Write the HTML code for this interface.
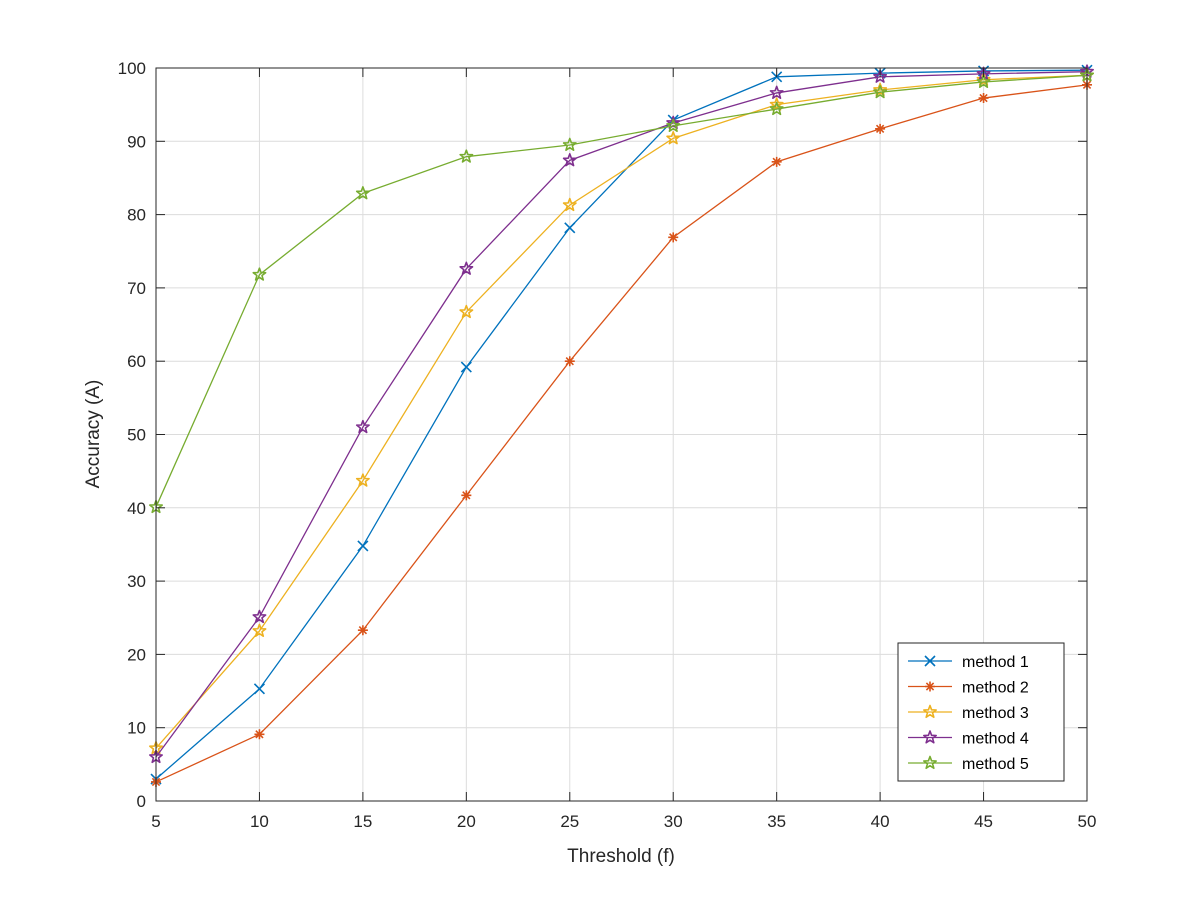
<!DOCTYPE html>
<html><head><meta charset="utf-8"><style>
body{margin:0;background:#fff;}
svg{display:block;font-family:"Liberation Sans",Arial,sans-serif;}
</style></head><body>
<svg id="chart" width="1200" height="900">
<rect width="1200" height="900" fill="#fff"/>
<g id="grid"></g>
<g id="series"></g>
<rect x="156" y="68" width="931" height="733" fill="none" stroke="#262626" stroke-width="1"/>
<g id="ticks"></g>
<text x="621" y="862" font-size="19" fill="#262626" text-anchor="middle">Threshold (f)</text>
<text transform="translate(99,434) rotate(-90)" font-size="19" fill="#262626" text-anchor="middle">Accuracy (A)</text>
<g id="legend"></g>
</svg>
<script>
const categories=[5,10,15,20,25,30,35,40,45,50];
const seriesNames=["method 1","method 2","method 3","method 4","method 5"];
const method1=[3.0,15.3,34.8,59.2,78.2,92.9,98.8,99.3,99.6,99.7];
const method2=[2.6,9.1,23.3,41.7,60.0,76.9,87.2,91.7,95.9,97.7];
const method3=[7.2,23.2,43.7,66.7,81.3,90.4,95.0,97.0,98.4,99.0];
const method4=[6.0,25.1,51.0,72.6,87.4,92.5,96.6,98.8,99.2,99.5];
const method5=[40.1,71.8,82.9,87.9,89.5,92.1,94.4,96.7,98.1,99.0];
const xTicks=[5,10,15,20,25,30,35,40,45,50];
const yTicks=[0,10,20,30,40,50,60,70,80,90,100];
const colors=["#0072BD","#D95319","#EDB120","#7E2F8E","#77AC30"];
const markers=["x","star","pent","pent","pent"];
const allSeries=[method1,method2,method3,method4,method5];
const NS="http://www.w3.org/2000/svg";
const X=v=>156+(v-5)/45*931;
const Y=v=>801-v/100*733;
function mk(tag,attrs,parent){const e=document.createElementNS(NS,tag);for(const k in attrs)e.setAttribute(k,attrs[k]);parent.appendChild(e);return e;}
const grid=document.getElementById('grid'),ticks=document.getElementById('ticks');
xTicks.forEach(t=>{
 const l=mk('line',{x1:X(t),x2:X(t),y1:68,y2:801,stroke:'#dcdcdc','stroke-width':1},grid);
 
 
 const tk=mk('line',{x1:X(t),x2:X(t),y1:801,y2:792,stroke:'#262626'},ticks);
 
 
 const tk2=mk('line',{x1:X(t),x2:X(t),y1:68,y2:77,stroke:'#262626'},ticks);
 
 
 const tx=mk('text',{x:X(t),y:827,'font-size':17,fill:'#262626','text-anchor':'middle'},ticks);
 tx.textContent=t;
 
 
});
yTicks.forEach(t=>{
 const l=mk('line',{x1:156,x2:1087,y1:Y(t),y2:Y(t),stroke:'#dcdcdc','stroke-width':1},grid);
 
 
 const tk=mk('line',{x1:156,x2:165,y1:Y(t),y2:Y(t),stroke:'#262626'},ticks);
 
 
 const tk2=mk('line',{x1:1078,x2:1087,y1:Y(t),y2:Y(t),stroke:'#262626'},ticks);
 
 
 const tx=mk('text',{x:146,y:Y(t)+6,'font-size':17,fill:'#262626','text-anchor':'end'},ticks);
 tx.textContent=t;
 
 
});
function starPath(cx,cy,n,r1,r2){let d='';for(let i=0;i<n*2;i++){const r=i%2?r2:r1;const a=-Math.PI/2+i*Math.PI/n;d+=(i?'L':'M')+(cx+r*Math.cos(a)).toFixed(2)+' '+(cy+r*Math.sin(a)).toFixed(2);}return d+'Z';}
function marker(type,cx,cy,color,parent){
 let e;
 if(type==='x'){e=mk('path',{d:`M${cx-5} ${cy-5}L${cx+5} ${cy+5}M${cx-5} ${cy+5}L${cx+5} ${cy-5}`,stroke:color,'stroke-width':1.6,fill:'none'},parent);}
 else if(type==='star'){e=mk('path',{d:`M${cx-5} ${cy}L${cx+5} ${cy}M${cx} ${cy-5}L${cx} ${cy+5}M${cx-3.6} ${cy-3.6}L${cx+3.6} ${cy+3.6}M${cx-3.6} ${cy+3.6}L${cx+3.6} ${cy-3.6}`,stroke:color,'stroke-width':1.6,fill:'none'},parent);}
 else {e=mk('path',{d:starPath(cx,cy,5,6.5,2.7),stroke:color,'stroke-width':1.6,fill:'none','stroke-linejoin':'round'},parent);}
 return e;
}
const sg=document.getElementById('series');
allSeries.forEach((s,i)=>{
 const g=mk('g',{},sg);
 
 
 const pl=mk('polyline',{points:s.map((v,j)=>X(categories[j])+','+Y(v)).join(' '),fill:'none',stroke:colors[i],'stroke-width':1.3},g);
 
 
 s.forEach((v,j)=>{
  const m=marker(markers[i],X(categories[j]),Y(v),colors[i],g);
  
  
 });
});
const lg=document.getElementById('legend');
const lb=mk('rect',{x:898,y:643,width:166,height:138,fill:'#fff',stroke:'#262626','stroke-width':1},lg);


seriesNames.forEach((n,i)=>{
 const y=661+i*25.5;
 const g=mk('g',{},lg);
 
 
 mk('line',{x1:908,x2:952,y1:y,y2:y,stroke:colors[i],'stroke-width':1.3},g);
 marker(markers[i],930,y,colors[i],g);
 const t=mk('text',{x:962,y:y+6,'font-size':16,fill:'#000'},g);
 t.textContent=n;
 
 
});
</script>
</body></html>
